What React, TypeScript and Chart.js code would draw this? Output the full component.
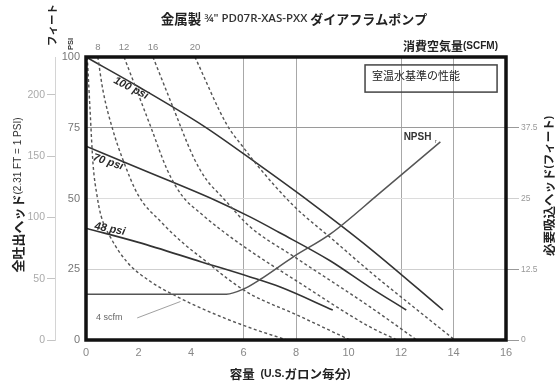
import React, { useEffect, useRef } from "react";
import { Chart, registerables } from "chart.js";

Chart.register(...registerables);

// ---------- axes ----------
const flowTicks = [0, 2, 4, 6, 8, 10, 12, 14, 16];
const psiTicks = [0, 25, 50, 75, 100];
const feetTicks = [0, 50, 100, 150, 200];
const npshTicks = [0, 12.5, 25, 37.5];
const flowGridLines = [6, 8, 12, 14];

// ---------- pressure curves (gpm -> psi) ----------
const flow100 = [0, 2, 4.5, 6.5, 8.5, 10.8, 13.6];
const head100 = [100, 89.5, 75.5, 62.5, 49, 32.5, 10.6];
const flow70 = [0, 2.2, 4.9, 6.25, 7.4, 9.3, 10.8, 12.2];
const head70 = [68.5, 60, 49.5, 43.5, 37.8, 28, 18.7, 10.6];
const flow48 = [0, 2, 4.4, 6.25, 7.4, 9.4];
const head48 = [39.5, 34.5, 27.6, 22.3, 18.7, 10.6];
const pressureNames = ["100 psi", "70 psi", "48 psi"];

// ---------- NPSHr (gpm -> feet) ----------
const flowNpsh = [0, 5.35, 6.0, 6.6, 7.9, 9.3, 11.2, 13.5];
const feetNpsh = [8.1, 8.1, 9.0, 10.6, 14.7, 18.7, 26, 35];

// ---------- air consumption curves (gpm -> psi) ----------
const scfmValues = [4, 8, 12, 16, 20];
const flowScfm4 = [0.05, 0.15, 0.27, 0.42, 0.57, 0.95, 1.56, 2.48, 3.35, 4.11, 5.26, 6.29, 7.65];
const headScfm4 = [100, 82, 62, 51, 44, 36, 27.6, 20.5, 15.9, 12.4, 7.8, 4.2, 0];
const flowScfm8 = [0.45, 0.65, 1.03, 1.41, 2.0, 2.86, 3.73, 4.61, 5.37, 6.27, 8, 10.06];
const headScfm8 = [100, 88, 74, 63.6, 51, 41.7, 34, 27.5, 21.8, 16.2, 9, 0];
const flowScfm12 = [1.45, 2.48, 3.1, 3.66, 4.4, 5.2, 6.25, 8, 10.82, 11.85];
const headScfm12 = [100, 75, 60, 51, 44.5, 38.5, 31.5, 21, 4.6, 0];
const flowScfm16 = [2.55, 3.24, 4.11, 4.6, 5.14, 6.25, 8, 10.82, 12.6];
const headScfm16 = [100, 84, 64.3, 56.5, 51, 40, 29, 11.7, 0];
const flowScfm20 = [4.15, 5.37, 6.0, 6.5, 7.9, 9.4, 10.9, 12.5, 14.05];
const headScfm20 = [100, 76, 68, 62, 47.5, 35.5, 23.5, 11.5, 0];

const CJK = '"Noto Sans CJK JP"';
const LAT = '"Liberation Sans", Arial, sans-serif';

const pts = (xs: number[], ys: number[]) => xs.map((x, i) => ({ x, y: ys[i] }));

type Seg = { t: string; f: string; c?: string };

function drawSegs(
  ctx: CanvasRenderingContext2D,
  segs: Seg[],
  x: number,
  y: number,
  align: "left" | "center" | "right",
  rot = 0
) {
  ctx.save();
  ctx.translate(x, y);
  ctx.rotate(rot);
  let w = 0;
  for (const s of segs) {
    ctx.font = s.f;
    w += ctx.measureText(s.t).width;
  }
  let cx = align === "left" ? 0 : align === "center" ? -w / 2 : -w;
  ctx.textBaseline = "middle";
  ctx.textAlign = "left";
  for (const s of segs) {
    ctx.font = s.f;
    ctx.fillStyle = s.c || "#222";
    ctx.fillText(s.t, cx, 0);
    cx += ctx.measureText(s.t).width;
  }
  ctx.restore();
}

const overlay = {
  id: "overlay",
  afterDatasetsDraw(chart: any) {
    const { ctx, chartArea: a, scales } = chart;
    const px = (v: number) => scales.x.getPixelForValue(v);
    const py = (v: number) => scales.y.getPixelForValue(v);
    ctx.save();

    // frame
    ctx.lineWidth = 3.5;
    ctx.strokeStyle = "#111";
    ctx.strokeRect(a.left, a.top, a.right - a.left, a.bottom - a.top);

    // title
    drawSegs(
      ctx,
      [
        { t: "金属製", f: `bold 13.5px ${CJK}`, c: "#222" },
        { t: " ¾\" PD07R-XAS-PXX ", f: `600 11.5px "Open Sans", ${LAT}`, c: "#333" },
        { t: "ダイアフラムポンプ", f: `bold 13px ${CJK}`, c: "#222" },
      ],
      294,
      19,
      "center"
    );

    // unit labels top-left
    drawSegs(ctx, [{ t: "フィート", f: `bold 10.5px ${CJK}`, c: "#222" }], 52, 25, "center", -Math.PI / 2);
    drawSegs(ctx, [{ t: "PSI", f: `bold 7.5px ${LAT}`, c: "#333" }], 71, 44, "center", -Math.PI / 2);

    // left axis title
    drawSegs(
      ctx,
      [
        { t: "全吐出ヘッド", f: `bold 13px ${CJK}`, c: "#222" },
        { t: "(2.31 FT = 1 PSI)", f: `10px ${LAT}`, c: "#333" },
      ],
      18,
      195,
      "center",
      -Math.PI / 2
    );

    // right axis title
    drawSegs(
      ctx,
      [
        { t: "必要吸込ヘッド", f: `bold 12.5px ${CJK}`, c: "#222" },
        { t: "(", f: `bold 10px ${LAT}`, c: "#222" },
        { t: "フィート", f: `bold 11.5px ${CJK}`, c: "#222" },
        { t: ")", f: `bold 10px ${LAT}`, c: "#222" },
      ],
      549,
      186,
      "center",
      -Math.PI / 2
    );

    // x axis title
    drawSegs(
      ctx,
      [
        { t: "容量", f: `bold 12.5px ${CJK}`, c: "#222" },
        { t: "  (U.S.", f: `bold 10.5px ${LAT}`, c: "#222" },
        { t: "ガロン毎分", f: `bold 12.5px ${CJK}`, c: "#222" },
        { t: ")", f: `bold 10.5px ${LAT}`, c: "#222" },
      ],
      290,
      374,
      "center"
    );

    // air consumption header
    drawSegs(
      ctx,
      [
        { t: "消費空気量", f: `bold 12px ${CJK}`, c: "#222" },
        { t: "(SCFM)", f: `bold 10px ${LAT}`, c: "#222" },
      ],
      498,
      46,
      "right"
    );

    // scfm top labels at curve tops
    const tops = [flowScfm8[0], flowScfm12[0], flowScfm16[0], flowScfm20[0]];
    ctx.font = `9.5px ${LAT}`;
    ctx.fillStyle = "#888";
    ctx.textAlign = "center";
    ctx.textBaseline = "middle";
    tops.forEach((fx, i) => ctx.fillText(String(scfmValues[i + 1]), px(fx), a.top - 10));

    // legend box
    const bx0 = px(10.63), bx1 = px(15.66), by0 = py(97.2), by1 = py(87.6);
    ctx.lineWidth = 1.5;
    ctx.strokeStyle = "#444";
    ctx.strokeRect(bx0, by0, bx1 - bx0, by1 - by0);
    drawSegs(ctx, [{ t: "室温水基準の性能", f: `11px ${CJK}`, c: "#222" }], bx0 + 7, by0 + 11, "left");

    // pressure curve labels
    const labelPos = [
      [1.71, 89, 0.47],
      [0.84, 62.9, 0.32],
      [0.91, 39.2, 0.2],
    ];
    pressureNames.forEach((n, i) => {
      const [lx, ly, r] = labelPos[i];
      drawSegs(ctx, [{ t: n, f: `bold italic 11px ${LAT}`, c: "#2a2a2a" }], px(lx), py(ly), "center", r);
    });

    // NPSHr label
    drawSegs(ctx, [{ t: "NPSH", f: `bold 10px "Liberation Sans Narrow", ${LAT}`, c: "#333" }], px(12.63), py(71.7), "center");
    drawSegs(ctx, [{ t: "r", f: `6px ${LAT}`, c: "#555" }], px(13.32), py(70.2), "center");

    // 4 scfm label and leader
    drawSegs(ctx, [{ t: "4 scfm", f: `9px ${LAT}`, c: "#666" }], px(0.38), py(7.8), "left");
    ctx.beginPath();
    ctx.moveTo(px(1.95), py(7.8));
    ctx.lineTo(px(3.6), py(13.6));
    ctx.lineWidth = 0.8;
    ctx.strokeStyle = "#888";
    ctx.stroke();

    ctx.restore();
  },
};

export default function App() {
  const ref = useRef<HTMLCanvasElement>(null);
  useEffect(() => {
    const canvas = ref.current!;
    const solid = (data: any, color = "#333", width = 1.6, axis = "y") => ({
      data,
      showLine: true,
      borderColor: color,
      borderWidth: width,
      pointRadius: 0,
      cubicInterpolationMode: "monotone",
      yAxisID: axis,
      fill: false,
    });
    const dashed = (data: any) => ({
      data,
      showLine: true,
      borderColor: "#555",
      borderWidth: 1.4,
      borderDash: [3, 2.5],
      pointRadius: 0,
      cubicInterpolationMode: "monotone",
      yAxisID: "y",
      fill: false,
    });
    const gridX = (v: number) => (flowGridLines.includes(v) ? "#a8a8a8" : "transparent");
    const gridY = (v: number) =>
      v === 75 ? "#9a9a9a" : v === 50 ? "#dcdcdc" : v === 25 ? "#cfcfcf" : "transparent";

    const chart = new Chart(canvas, {
      type: "scatter",
      data: {
        datasets: [
          dashed(pts(flowScfm4, headScfm4)),
          dashed(pts(flowScfm8, headScfm8)),
          dashed(pts(flowScfm12, headScfm12)),
          dashed(pts(flowScfm16, headScfm16)),
          dashed(pts(flowScfm20, headScfm20)),
          solid(pts(flowNpsh, feetNpsh), "#555", 1.5, "npsh"),
          solid(pts(flow48, head48)),
          solid(pts(flow70, head70)),
          solid(pts(flow100, head100)),
        ] as any,
      },
      options: {
        responsive: false,
        animation: false,
        devicePixelRatio: 1,
        layout: { padding: { left: 20, right: 0, top: 57, bottom: 0 } },
        plugins: { legend: { display: false }, tooltip: { enabled: false } },
        scales: {
          x: {
            type: "linear",
            min: 0,
            max: 16,
            position: "bottom",
            afterBuildTicks: (s: any) => {
              s.ticks = flowTicks.map((v) => ({ value: v }));
            },
            afterFit: (s: any) => {
              s.height = 43;
            },
            ticks: { color: "#888", font: { size: 11, family: LAT }, padding: 6, callback: (v: any) => String(v) },
            grid: { color: (c: any) => gridX(c.tick?.value), drawTicks: false, lineWidth: 1 },
            border: { display: false },
          },
          y: {
            type: "linear",
            min: 0,
            max: 100,
            position: "left",
            weight: 0,
            afterBuildTicks: (s: any) => {
              s.ticks = psiTicks.map((v) => ({ value: v }));
            },
            afterFit: (s: any) => {
              s.width = 31;
            },
            ticks: { color: "#777", font: { size: 11, family: LAT }, padding: 6, callback: (v: any) => String(v) },
            grid: { color: (c: any) => gridY(c.tick?.value), drawTicks: false, lineWidth: 1 },
            border: { display: false },
          },
          feet: {
            type: "linear",
            min: 0,
            max: 231,
            position: "left",
            weight: 1,
            afterBuildTicks: (s: any) => {
              s.ticks = feetTicks.map((v) => ({ value: v }));
            },
            afterFit: (s: any) => {
              s.width = 35;
            },
            ticks: { color: "#aaa", font: { size: 10.5, family: LAT }, padding: 2, callback: (v: any) => String(v) },
            grid: { drawOnChartArea: false, color: "#c4c4c4", tickLength: 8 },
            border: { display: true, color: "#d4d4d4" },
          },
          npsh: {
            type: "linear",
            min: 0,
            max: 50,
            position: "right",
            afterBuildTicks: (s: any) => {
              s.ticks = npshTicks.map((v) => ({ value: v }));
            },
            afterFit: (s: any) => {
              s.width = 54;
            },
            ticks: { color: "#999", font: { size: 8.5, family: LAT }, padding: 2, callback: (v: any) => String(v) },
            grid: {
              drawOnChartArea: false,
              color: (c: any) => (c.tick?.value === 25 ? "#cfcfcf" : "#999"),
              tickLength: 13,
            },
            border: { display: false },
          },
        },
      } as any,
      plugins: [overlay],
    });
    return () => chart.destroy();
  }, []);

  return (
    <div style={{ position: "absolute", left: 0, top: 0, width: 560, height: 383, background: "#fff" }}>
      <canvas ref={ref} width={560} height={383} style={{ width: 560, height: 383, display: "block" }} />
    </div>
  );
}
